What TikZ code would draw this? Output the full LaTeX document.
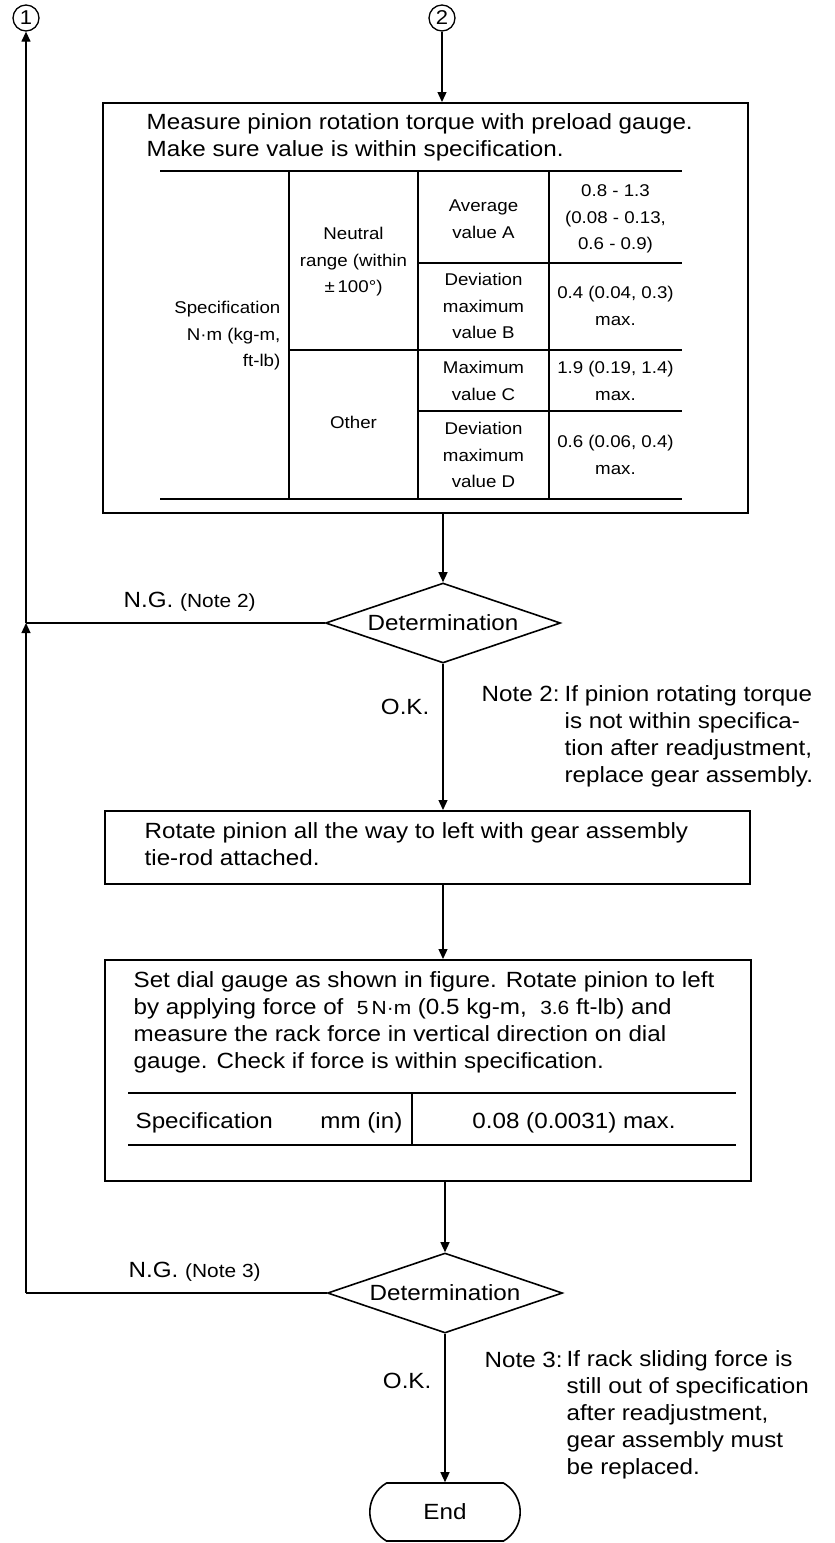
\documentclass[tikz,border=0pt]{standalone}
\usepackage{fontspec}
\newfontfamily\flowfamily[FakeStretch=1.1]{Liberation Sans}
\usepackage{tikz}
\usetikzlibrary{arrows.meta, calc, positioning, shapes.geometric, shapes.misc}

\newcommand{\flowbody}{\flowfamily\fontsize{22}{27}\selectfont}
\newcommand{\flowcell}{\flowfamily\fontsize{17}{26.5}\selectfont}
\newcommand{\flowsmall}{\fontsize{19}{27}\selectfont}

\begin{document}
\begin{tikzpicture}[x=1pt, y=-1pt, line width=1.3pt,
    flow/.style={-{Triangle[length=10pt,width=9pt]}},
    stepbox/.style={draw, line width=1.8pt, rectangle, inner sep=0pt, anchor=north west},
    decide/.style={diamond, draw, line width=1.6pt, inner sep=0pt, aspect=2.9, minimum width=235pt, minimum height=80pt, font=\flowbody},
    marker/.style={circle, draw, line width=1.3pt, minimum size=26pt, inner sep=0pt, font=\flowfamily\fontsize{20}{20}\selectfont},
    txt/.style={inner sep=0pt, anchor=base west, align=left, font=\flowbody},
    cell/.style={inner sep=0pt, align=center, font=\flowcell},
    rule/.style={line width=2.4pt},
    grid/.style={line width=1.3pt}]
    \useasboundingbox (0,0) rectangle (835,1543);

    % entry points
    \node[marker] (mark1) at (26,18) {1};
    \node[marker] (mark2) at (442,18) {2};

    % step 1: pinion rotation torque (text nodes sit on their last baseline)
    \node[stepbox, minimum width=645pt, minimum height=410pt] (measure) at (102,102) {};
    \node[txt] (measuretext) at (146,156) {Measure pinion rotation torque with preload gauge.\\Make sure value is within specification.};
    \draw[rule] (160,171) -- (682,171);
    \draw[rule] (160,499) -- (682,499);
    \draw[grid] (289,171) -- (289,499);
    \draw[grid] (418,171) -- (418,499);
    \draw[grid] (549,171) -- (549,499);
    \draw[grid] (418,263) -- (682,263);
    \draw[grid] (289,350) -- (682,350);
    \draw[grid] (418,411) -- (682,411);
    \node[cell, anchor=east, align=right] (spec) at (281,336) {Specification\\N·m (kg-m,\\ft-lb)};
    \node[cell] (neutral) at (353.5,262) {Neutral\\range (within\\±\,100°)};
    \node[cell] (other) at (353.5,422) {Other};
    \node[cell] (avga) at (483.5,219) {Average\\value A};
    \node[cell] (devb) at (483.5,306) {Deviation\\maximum\\value B};
    \node[cell] (maxc) at (483.5,381) {Maximum\\value C};
    \node[cell] (devd) at (483.5,455) {Deviation\\maximum\\value D};
    \node[cell] (vala) at (615.5,219) {0.8 - 1.3\\(0.08 - 0.13,\\0.6 - 0.9)};
    \node[cell] (valb) at (615.5,306) {0.4 (0.04, 0.3)\\max.};
    \node[cell] (valc) at (615.5,381) {1.9 (0.19, 1.4)\\max.};
    \node[cell] (vald) at (615.5,455) {0.6 (0.06, 0.4)\\max.};

    % first check
    \node[decide] (check1) at (443,623) {Determination};
    \node[txt] (ng2) at (123,607) {N.G. {\flowsmall(Note 2)}};
    \node[txt, anchor=base east] (ok2) at (430,714) {O.K.};
    \node[txt] (note2) at (481,701) {Note 2:};
    \node[txt] (note2text) at (564,782) {If pinion rotating torque\\is not within specifica-\\tion after readjustment,\\replace gear assembly.};

    % step 2: rotate pinion
    \node[stepbox, minimum width=645pt, minimum height=73pt] (rotate) at (104,810) {};
    \node[txt] (rotatetext) at (144,865) {Rotate pinion all the way to left with gear assembly\\tie-rod attached.};

    % step 3: rack force
    \node[stepbox, minimum width=646pt, minimum height=221pt] (dial) at (104,959) {};
    \node[txt] (dialtext) at (133,1068) {Set dial gauge as shown in figure. Rotate pinion to left\\by applying force of \ {\flowsmall 5\,N·m} (0.5 kg-m, \ {\flowsmall 3.6} ft-lb) and\\measure the rack force in vertical direction on dial\\gauge. Check if force is within specification.};
    \draw[rule] (128,1093) -- (736,1093);
    \draw[rule] (128,1145) -- (736,1145);
    \draw[grid] (412,1093) -- (412,1145);
    \node[txt] (specrow) at (135,1128) {Specification};
    \node[txt, anchor=base east] (unitrow) at (403,1128) {mm (in)};
    \node[txt, anchor=base] (limitrow) at (574,1128) {0.08 (0.0031) max.};

    % second check
    \node[decide] (check2) at (445,1293) {Determination};
    \node[txt] (ng3) at (128,1277) {N.G. {\flowsmall(Note 3)}};
    \node[txt, anchor=base east] (ok3) at (432,1388) {O.K.};
    \node[txt] (note3) at (484,1367) {Note 3:};
    \node[txt] (note3text) at (566,1474) {If rack sliding force is\\still out of specification\\after readjustment,\\gear assembly must\\be replaced.};

    \node[rounded rectangle, draw, line width=1.6pt, rounded rectangle arc length=120, minimum width=157pt, minimum height=58pt, font=\flowbody] (finish) at (445,1512) {End};

    % connectors
    \draw[flow] (mark2.south) -- (mark2.south |- measure.north);
    \draw[flow] (check1.north |- measure.south) -- (check1.north);
    \draw[flow] (check1.south) -- (check1.south |- rotate.north);
    \draw[flow] (check1.south |- rotate.south) -- (check1.south |- dial.north);
    \draw[flow] (check2.north |- dial.south) -- (check2.north);
    \draw[flow] (check2.south) -- (finish.north);
    \draw (check1.west) -- (mark1 |- check1.west);
    \draw (check2.west) -- (mark1 |- check2.west);
    \draw[flow] (mark1 |- check2.west) -- (mark1 |- check1.west);
    \draw[flow] (mark1 |- check1.west) -- (mark1.south);
\end{tikzpicture}
\end{document}
